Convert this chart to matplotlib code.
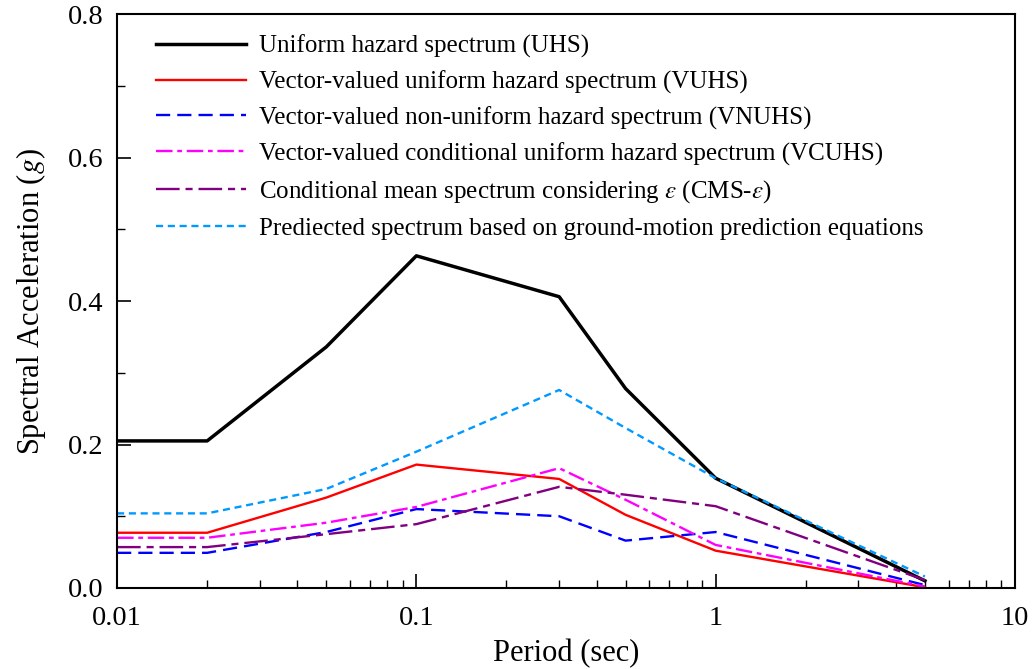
import matplotlib
matplotlib.use("Agg")
import matplotlib.pyplot as plt
from matplotlib.ticker import LogLocator, FixedLocator, NullFormatter, FuncFormatter

plt.rcParams['font.family'] = ['Liberation Serif', 'DejaVu Serif']
plt.rcParams['mathtext.fontset'] = 'stix'

periods = [0.01, 0.02, 0.05, 0.1, 0.3, 0.5, 1.0, 5.0]
uhs   = [0.205, 0.205, 0.336, 0.463, 0.406, 0.278, 0.153, 0.010]
vuhs  = [0.077, 0.077, 0.126, 0.172, 0.152, 0.102, 0.052, 0.001]
vnuhs = [0.049, 0.049, 0.078, 0.110, 0.100, 0.066, 0.078, 0.004]
vcuhs = [0.070, 0.070, 0.091, 0.113, 0.167, 0.123, 0.060, 0.002]
cms   = [0.057, 0.057, 0.075, 0.089, 0.141, 0.130, 0.114, 0.011]
gmpe  = [0.104, 0.104, 0.138, 0.190, 0.276, 0.223, 0.153, 0.016]

labels = [
    "Uniform hazard spectrum (UHS)",
    "Vector-valued uniform hazard spectrum (VUHS)",
    "Vector-valued non-uniform hazard spectrum (VNUHS)",
    "Vector-valued conditional uniform hazard spectrum (VCUHS)",
    r"Conditional mean spectrum considering $\varepsilon$ (CMS-$\varepsilon$)",
    "Prediected spectrum based on ground-motion prediction equations",
]

fig = plt.figure(figsize=(10.34, 6.69), dpi=100)
ax = fig.add_axes([0.1132, 0.1211, 0.9816 - 0.1132, 0.979 - 0.1211])

ax.plot(periods, uhs, color='black', lw=2.5, label=labels[0])
ax.plot(periods, vuhs, color='#ff0000', lw=1.7, label=labels[1])
ax.plot(periods, vnuhs, color='#0000ff', lw=1.7, dashes=(6, 3), label=labels[2])
ax.plot(periods, vcuhs, color='#ff00ff', lw=1.7, dashes=(7, 2, 2, 2), label=labels[3])
ax.plot(periods, cms, color='#800080', lw=1.7, dashes=(10, 2.5, 3, 2.5), label=labels[4])
ax.plot(periods, gmpe, color='#0099ff', lw=1.7, dashes=(3, 2), label=labels[5])

ax.set_xscale('log')
ax.set_xlim(0.01, 10)
ax.set_ylim(0, 0.8)
ax.xaxis.set_major_locator(FixedLocator([0.01, 0.1, 1, 10]))
ax.xaxis.set_major_formatter(FuncFormatter(lambda v, p: {0.01: '0.01', 0.1: '0.1', 1: '1', 10: '10'}.get(v, '')))
ax.xaxis.set_minor_locator(LogLocator(base=10, subs=range(2, 10), numticks=20))
ax.xaxis.set_minor_formatter(NullFormatter())
ax.set_yticks([0.0, 0.2, 0.4, 0.6, 0.8])
ax.set_yticklabels(['0.0', '0.2', '0.4', '0.6', '0.8'])
ax.set_yticks([0.1, 0.3, 0.5, 0.7], minor=True)

ax.tick_params(axis='both', which='both', direction='in', top=False, right=False, labelsize=20.5)
ax.tick_params(axis='both', which='major', length=10, width=1.2)
ax.tick_params(axis='both', which='minor', length=6, width=1.0)
ax.tick_params(axis='x', which='major', pad=13)
ax.tick_params(axis='y', which='major', pad=10)
for s in ax.spines.values():
    s.set_linewidth(1.5)

ax.set_xlabel('Period (sec)', fontsize=22, labelpad=6)
ax.set_ylabel(r'Spectral Acceleration ($g$)', fontsize=22, labelpad=14)

leg = ax.legend(loc='upper left', frameon=False, fontsize=18, handlelength=3.6,
                handletextpad=0.52, labelspacing=0.5, borderaxespad=0.3,
                bbox_to_anchor=(0.0244, 0.995))

fig.savefig('out.png', dpi=100)
